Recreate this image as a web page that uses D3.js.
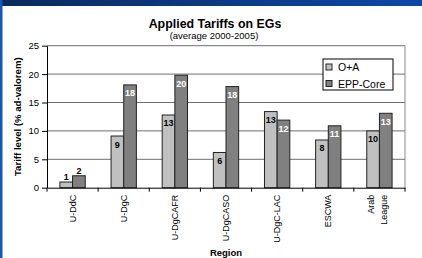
<!DOCTYPE html>
<html>
<head>
<meta charset="utf-8">
<script src="https://cdn.jsdelivr.net/npm/d3@7"></script>
<style>
  body { margin: 0; background: #fff; }
  text { font-family: "Liberation Sans", Arial, sans-serif; }
</style>
</head>
<body>
<div id="viz"></div>
<script>
const width = 422;
const height = 258;
const margin = {top: 45.7, right: 17, bottom: 70.3, left: 47};

// Data
const regions = ['U-DdC', 'U-DgC', 'U-DgCAFR', 'U-DgCASO', 'U-DgC-LAC', 'ESCWA', 'Arab League'];
const seriesNames = ['O+A', 'EPP-Core'];
const oaValues = [1.0, 9.1, 12.8, 6.2, 13.4, 8.4, 10.0];
const eppValues = [2.1, 18.1, 19.8, 17.8, 11.9, 10.9, 13.1];
const yTicks = [0, 5, 10, 15, 20, 25];
const colors = ['#c0c0c0', '#808080'];

const data = regions.map((r, i) => ({region: r, values: [oaValues[i], eppValues[i]]}));

const svg = d3.select('#viz')
  .append('svg')
    .attr('width', width)
    .attr('height', height);

// slide background
const grad = svg.append('defs').append('linearGradient')
    .attr('id', 'topbar').attr('x1', 0).attr('x2', 1);
grad.append('stop').attr('offset', 0).attr('stop-color', '#0b2a5e');
grad.append('stop').attr('offset', 1).attr('stop-color', '#0d47a8');
svg.append('rect').attr('width', width).attr('height', 6).attr('fill', 'url(#topbar)');
svg.append('rect').attr('y', 0).attr('width', 2.5).attr('height', height).attr('fill', '#1358b8');

const xScale = d3.scaleBand()
  .domain(regions)
  .range([margin.left, width - margin.right]);
const xInner = d3.scaleBand()
  .domain(seriesNames)
  .range([0, xScale.bandwidth()])
  .paddingOuter(1.02);
const yScale = d3.scaleLinear()
  .domain([0, 25])
  .range([height - margin.bottom, margin.top]);

// gridlines
svg.append('g')
  .selectAll('line')
  .data(yTicks.slice(1))
  .join('line')
    .attr('x1', margin.left)
    .attr('x2', width - margin.right)
    .attr('y1', d => yScale(d))
    .attr('y2', d => yScale(d))
    .attr('stroke', '#6e6e6e')
    .attr('stroke-width', 1);

svg.append('line')
  .attr('x1', width - margin.right).attr('x2', width - margin.right)
  .attr('y1', margin.top).attr('y2', yScale(0))
  .attr('stroke', '#8a8a8a');

// y axis
const yAxis = d3.axisLeft(yScale).tickValues(yTicks).tickSize(5).tickSizeOuter(0);
const yg = svg.append('g')
  .attr('transform', `translate(${margin.left},0)`)
  .call(yAxis);
yg.selectAll('text').attr('font-size', 9.5).attr('fill', '#000').attr('dx', 0);

// bars
const groups = svg.append('g')
  .selectAll('g')
  .data(data)
  .join('g')
    .attr('transform', d => `translate(${xScale(d.region)},0)`);

groups.selectAll('rect')
  .data(d => d.values.map((v, j) => ({key: seriesNames[j], v, j})))
  .join('rect')
    .attr('x', d => xInner(d.key))
    .attr('y', d => yScale(d.v))
    .attr('width', xInner.bandwidth())
    .attr('height', d => yScale(0) - yScale(d.v))
    .attr('fill', d => colors[d.j])
    .attr('stroke', '#222')
    .attr('stroke-width', 1);

groups.selectAll('text.val')
  .data((d, i) => d.values.map((v, j) => ({key: seriesNames[j], v, j, small: i === 0})))
  .join('text')
    .attr('class', 'val')
    .attr('x', d => xInner(d.key) + xInner.bandwidth() / 2)
    .attr('y', d => d.small ? yScale(d.v) - 2 : yScale(d.v) + 11.5)
    .attr('text-anchor', 'middle')
    .attr('font-size', 9)
    .attr('font-weight', 'bold')
    .attr('fill', d => (!d.small && d.j === 1) ? '#fff' : '#000')
    .text(d => Math.round(d.v));

// x axis
const xAxis = d3.axisBottom(xScale).tickSize(0).tickSizeOuter(0);
const xg = svg.append('g')
  .attr('transform', `translate(0,${yScale(0)})`)
  .call(xAxis);
xg.select('.domain').attr('stroke', '#000');
xg.selectAll('.tick text').remove();
xg.selectAll('line.sep')
  .data(regions.concat(['end']))
  .join('line')
    .attr('class', 'sep')
    .attr('x1', (d, i) => margin.left + i * xScale.step())
    .attr('x2', (d, i) => margin.left + i * xScale.step())
    .attr('y1', 0)
    .attr('y2', 4)
    .attr('stroke', '#000');

// rotated category labels
svg.append('g')
  .selectAll('text')
  .data(regions)
  .join('text')
    .attr('transform', d => `translate(${xScale(d) + xScale.bandwidth() / 2},${yScale(0) + 7}) rotate(-90)`)
    .attr('text-anchor', 'end')
    .attr('font-size', 9)
    .each(function(d) {
      const words = d === 'Arab League' ? ['Arab', 'League'] : [d];
      const t = d3.select(this);
      words.forEach((w, k) => {
        t.append('tspan')
          .attr('x', 0)
          .attr('dy', words.length === 1 ? 3.2 : (k === 0 ? -5 : 12.5))
          .text(w);
      });
    });

// titles
svg.append('text')
  .attr('x', 215).attr('y', 28)
  .attr('text-anchor', 'middle')
  .attr('font-size', 12.4).attr('font-weight', 'bold')
  .text('Applied Tariffs on EGs');
svg.append('text')
  .attr('x', 214).attr('y', 38.5)
  .attr('text-anchor', 'middle')
  .attr('font-size', 9.5)
  .text('(average 2000-2005)');
svg.append('text')
  .attr('transform', `translate(20.5,${(margin.top + yScale(0)) / 2}) rotate(-90)`)
  .attr('text-anchor', 'middle')
  .attr('font-size', 9.6).attr('font-weight', 'bold')
  .text('Tariff level (% ad-valorem)');
svg.append('text')
  .attr('x', 226).attr('y', 256)
  .attr('text-anchor', 'middle')
  .attr('font-size', 9.5).attr('font-weight', 'bold')
  .text('Region');

// legend
const legend = svg.append('g').attr('transform', 'translate(323,59)');
legend.append('rect')
  .attr('width', 70).attr('height', 31)
  .attr('fill', '#fff').attr('stroke', '#000');
seriesNames.forEach((s, i) => {
  const g = legend.append('g').attr('transform', `translate(3,${5 + i * 16.5})`);
  g.append('rect').attr('width', 6).attr('height', 6)
    .attr('fill', colors[i]).attr('stroke', '#222');
  g.append('text').attr('x', 12).attr('y', 7)
    .attr('font-size', 10.5).text(s);
});
</script>
</body>
</html>
